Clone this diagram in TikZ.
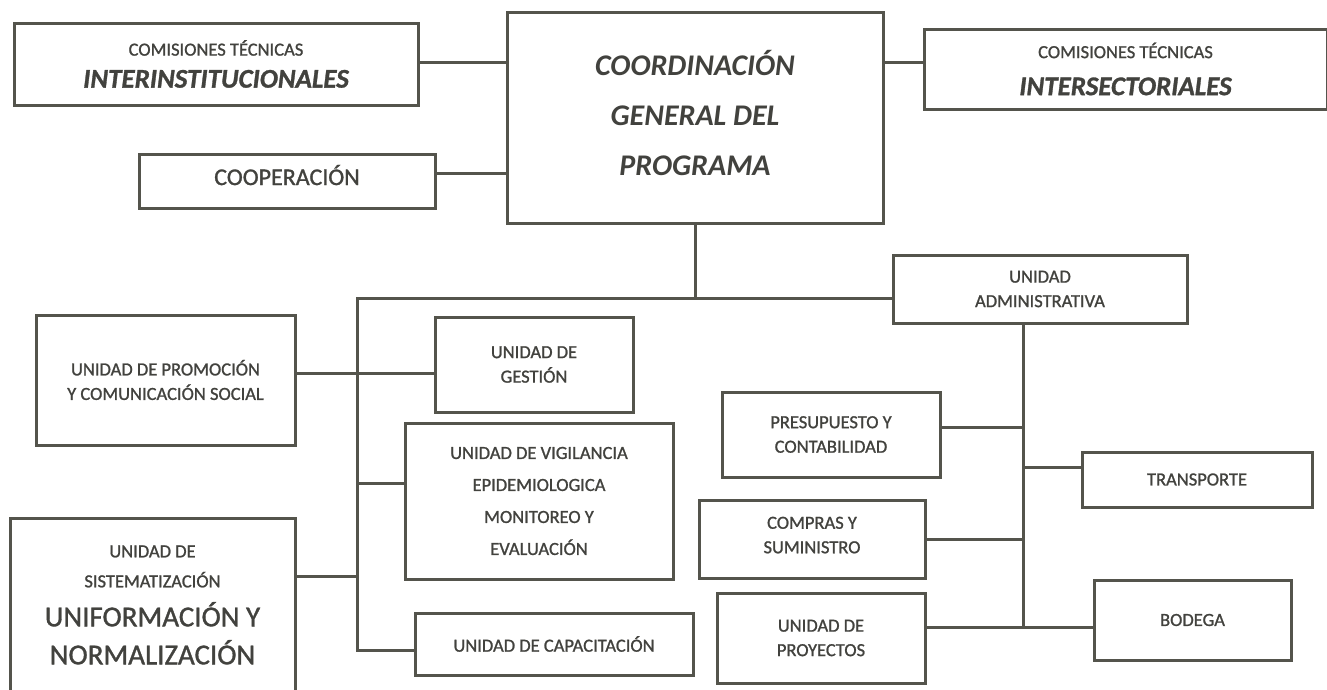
\documentclass[tikz,border=0pt]{standalone}
\usepackage{fontspec}
\setmainfont{Carlito}
\newfontfamily\unitfont{Carlito}[FakeBold=1.1]
\definecolor{linegray}{RGB}{84,84,76}
\definecolor{textgray}{RGB}{66,66,62}
\newcommand{\txtsmall}[1][24.5]{\unitfont\fontsize{18.5}{#1}\selectfont}
\newcommand{\txtbig}{\fontsize{27}{30}\selectfont\bfseries\itshape}

\tikzset{
  unitbox/.style={draw=linegray, line width=3pt, inner sep=0pt, align=center,
    text=textgray, fill=white, font=\txtsmall},
  boxsize/.style 2 args={minimum width=#1, minimum height=#2},
  wire/.style={draw=linegray, line width=3pt, line cap=rect}
}

\begin{document}
\begin{tikzpicture}[x=1pt,y=-1pt]
  \useasboundingbox (0,0) rectangle (1327,689);

  % top row
  \node[unitbox, boxsize={376pt}{211pt}, text depth=10pt, font=\fontsize{30}{50}\selectfont\bfseries\itshape] (coord) at (695,117.5)
    {COORDINACIÓN\\GENERAL DEL\\PROGRAMA};
  \node[unitbox, boxsize={404pt}{82pt}, font={\txtsmall[32]}] (interinst) at (216,64)
    {COMISIONES TÉCNICAS\\{\txtbig INTERINSTITUCIONALES}};
  \node[unitbox, boxsize={296pt}{54pt}, text depth=12pt, font=\unitfont\fontsize{24}{28}\selectfont] (coop) at (287,181) {COOPERACIÓN};
  \node[unitbox, boxsize={403pt}{80pt}, font={\txtsmall[37]}] (intersect) at (1125.5,69)
    {COMISIONES TÉCNICAS\\{\txtbig INTERSECTORIALES}};
  \node[unitbox, boxsize={294pt}{68pt}] (admin) at (1040,289) {UNIDAD\\ADMINISTRATIVA};

  % left side
  \node[unitbox, boxsize={259pt}{130pt}] (promo) at (165.5,380)
    {UNIDAD DE PROMOCIÓN\\Y COMUNICACIÓN SOCIAL};
  \node[unitbox, boxsize={198pt}{95pt}] (gestion) at (534,364.5) {UNIDAD DE\\GESTIÓN};
  \node[unitbox, boxsize={268pt}{156pt}, font={\txtsmall[32]}] (vigil) at (539,501)
    {UNIDAD DE VIGILANCIA\\EPIDEMIOLOGICA\\MONITOREO Y\\EVALUACIÓN};
  \node[unitbox, boxsize={285pt}{174pt}, font={\txtsmall[30]}] (sistem) at (152.5,605)
    {UNIDAD DE\\SISTEMATIZACIÓN\\[9pt]{\fontsize{29}{30}\selectfont UNIFORMACIÓN Y}\\[8pt]{\fontsize{29}{30}\selectfont NORMALIZACIÓN}};
  \node[unitbox, boxsize={278pt}{62pt}] (capac) at (554,644) {UNIDAD DE CAPACITACIÓN};

  % right side
  \node[unitbox, boxsize={218pt}{85pt}] (presup) at (831,434.5) {PRESUPUESTO Y\\CONTABILIDAD};
  \node[unitbox, boxsize={226pt}{78pt}, text depth=8pt] (compras) at (812,539) {COMPRAS Y\\SUMINISTRO};
  \node[unitbox, boxsize={208pt}{90pt}] (proyectos) at (821,638) {UNIDAD DE\\PROYECTOS};
  \node[unitbox, boxsize={230pt}{55pt}] (transporte) at (1197,479.5) {TRANSPORTE};
  \node[unitbox, boxsize={197pt}{80pt}] (bodega) at (1192.5,620) {BODEGA};

  \coordinate (ltop) at (357,298);
  \coordinate (lbot) at (357,650);
  \coordinate (rbot) at (1023,627);

  % connectors
  \draw[wire] ([yshift=2pt]interinst.east) coordinate (a1) -- (a1 -| coord.west);
  \draw[wire] ([yshift=8pt]coop.east) coordinate (a2) -- (a2 -| coord.west);
  \draw[wire] ([yshift=7pt]intersect.west) coordinate (a3) -- (a3 -| coord.east);
  \draw[wire] (coord.south) -- (coord.south |- ltop);
  \draw[wire] (ltop) -- (ltop -| admin.west);
  \draw[wire] (ltop) -- (lbot) -- (lbot -| capac.west);
  \draw[wire] ([yshift=7pt]promo.east) coordinate (b1) -- (b1 -| gestion.west);
  \draw[wire] ([yshift=18pt]vigil.west) coordinate (b2) -- (b2 -| ltop);
  \draw[wire] ([yshift=29pt]sistem.east) coordinate (b3) -- (b3 -| ltop);

  \draw[wire] (admin.south -| rbot) -- (rbot);
  \draw[wire] ([yshift=7.5pt]presup.east) coordinate (c1) -- (c1 -| rbot);
  \draw[wire] (compras.east) -- (compras.east -| rbot);
  \draw[wire] ([yshift=12.5pt]transporte.west) coordinate (c2) -- (c2 -| rbot);
  \draw[wire] (rbot -| proyectos.east) -- (rbot -| bodega.west);
\end{tikzpicture}
\end{document}
